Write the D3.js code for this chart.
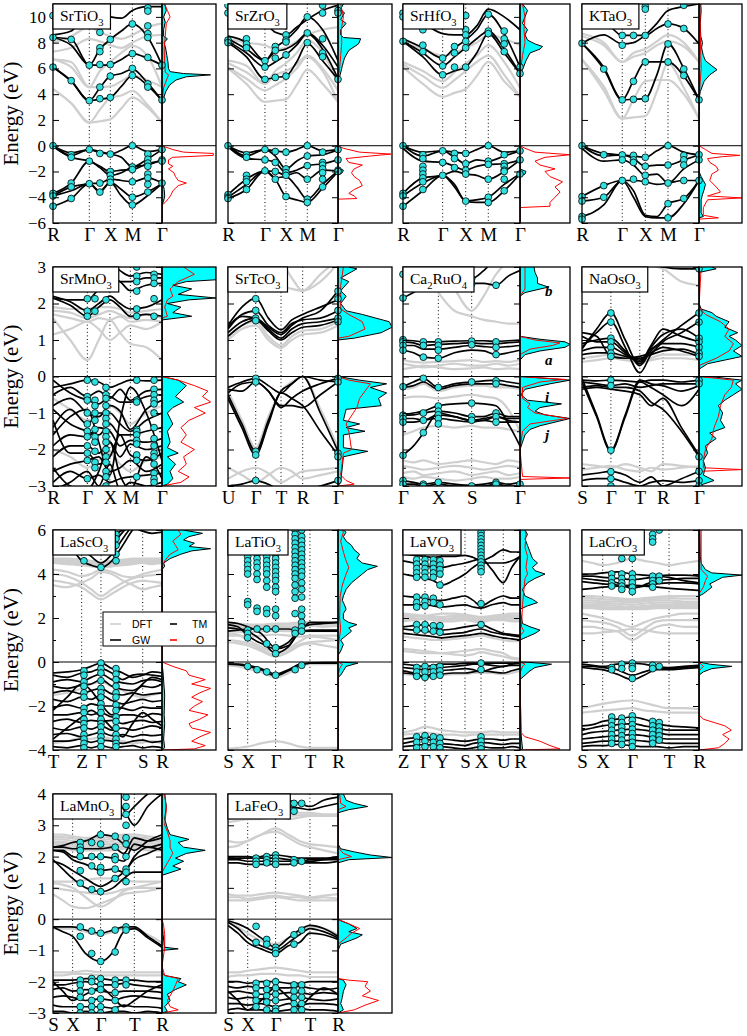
<!DOCTYPE html>
<html>
<head>
<meta charset="utf-8">
<script src="https://cdnjs.cloudflare.com/ajax/libs/d3/7.8.5/d3.min.js"></script>
<style>
  body { margin: 0; background: #fff; }
  svg text { font-family: "Liberation Serif", "Times New Roman", "DejaVu Serif", serif; }
</style>
</head>
<body>
<div id="chart"></div>
<script>
// ---------------------------------------------------------------------------
// data: k-path labels/positions, band energies (eV) at grid knots, GW dots,
// projected DOS (E, fraction of DOS panel width)
// ---------------------------------------------------------------------------

// SrTiO3
var srTiO3Labels = ["R", "Γ", "X", "M", "Γ"];
var srTiO3K = [0, .333, .526, .728, 1];
var srTiO3Grid = [0, .167, .333, .43, .526, .627, .728, .864, 1];
var srTiO3GW = [
  [6.1, 5.05, 3.5, 3.6, 3.75, 4.6, 5.45, 4.7, 3.5],
  [6.1, 5.0, 3.5, 4.5, 5.4, 5.6, 5.95, 4.9, 3.5],
  [8.4, 7.8, 6.25, 6.25, 6.3, 6.7, 7.15, 6.8, 6.25],
  [8.4, 8.25, 6.25, 7.5, 8.25, 8.9, 9.45, 8.5, 6.25],
  [8.6, 8.9, 10.6, 10.2, 10.0, 9.9, 10.5, 10.8, 10.8],
  [0, -0.55, -0.3, -0.45, -0.65, -0.35, 0.0, -0.45, -0.3],
  [0, -0.75, -0.3, -0.55, -0.65, -0.9, -1.65, -1.05, -0.3],
  [-0.05, -0.9, -1.2, -1.6, -2.0, -1.9, -1.85, -1.4, -1.2],
  [-3.7, -2.9, -1.2, -1.7, -2.3, -2.1, -1.65, -1.5, -1.1],
  [-3.9, -3.2, -2.95, -2.9, -2.6, -2.7, -2.8, -2.5, -2.9],
  [-3.9, -3.5, -2.95, -3.5, -2.85, -3.4, -4.0, -3.6, -2.95],
  [-4.7, -4.1, -2.95, -3.6, -2.85, -3.9, -4.6, -3.9, -2.95]
];
var srTiO3DFT = [
  [4.4, 3.3, 1.8, 1.9, 2.05, 2.9, 3.75, 3.0, 1.8],
  [4.4, 3.3, 1.8, 2.8, 3.7, 3.9, 4.25, 3.2, 1.8],
  [6.7, 6.1, 4.55, 4.55, 4.6, 5.0, 5.45, 5.1, 4.55],
  [6.7, 6.5, 4.55, 5.8, 6.5, 7.2, 7.75, 7.0, 4.55],
  [7.3, 7.6, 8.3, 8.1, 7.8, 7.6, 8.0, 8.5, 8.6],
  [8.0, 8.5, 9.2, 8.8, 8.5, 8.3, 8.6, 9.2, 9.5]
];
var srTiO3Dots = [
  [0, [10.1, 8.4, 6.1, 0, -3.7, -3.9, -4.7]],
  [.167, [8.25, 5.05, -0.7, -0.9, -2.9, -3.2, -4.1]],
  [.333, [6.25, 3.5, -0.3, -1.2, -2.95]],
  [.43, [8.8, 7.6, 7.3, 6.3, 4.55, 3.65, -0.6, -2.9, -3.6]],
  [.526, [8.25, 6.3, 5.4, 3.75, -0.65, -2.0, -2.3, -2.6, -2.85]],
  [.728, [9.45, 7.15, 6.0, 5.45, 0, -1.65, -1.85, -2.8, -4.0, -4.6]],
  [.87, [10.7, 10.45, 9.3, 8.7, 8.4, 6.85, 4.8, 4.55, -0.65, -1.05, -1.35, -1.6, -2.2, -2.5, -3.0, -3.6]],
  [1, [6.25, 3.55, -0.3, -1.1, -1.2, -2.9]]
];
var srTiO3TM = [[-6,0],[-4.6,0],[-4.3,0.03],[-3.9,0.05],[-3.4,0.04],[-3.0,0.02],[-2.6,0],[-0.6,0],[-0.3,0.02],[0,0],[3.3,0],[3.7,0.03],[4.2,0.07],[4.7,0.14],[5.1,0.26],[5.35,0.45],[5.5,0.9],[5.6,0.4],[5.75,0.15],[6.0,0.12],[6.5,0.11],[7.0,0.09],[7.5,0.07],[8.0,0.04],[8.3,0.1],[8.5,0.03],[9.0,0.03],[9.6,0.06],[10.0,0.03],[10.5,0.08],[11,0.05]];
var srTiO3O = [[-6,0],[-4.6,0],[-4.4,0.06],[-4.1,0.12],[-3.8,0.17],[-3.5,0.2],[-3.1,0.3],[-2.9,0.45],[-2.7,0.3],[-2.4,0.25],[-2.1,0.22],[-1.8,0.12],[-1.6,0.2],[-1.4,0.12],[-1.1,0.12],[-0.9,0.2],[-0.75,0.95],[-0.6,0.95],[-0.5,0.4],[-0.3,0.2],[-0.1,0.06],[0,0],[3.4,0],[4.5,0.03],[5.5,0.12],[5.7,0.06],[6.5,0.05],[7.5,0.04],[8.5,0.06],[9.5,0.08],[10.0,0.15],[10.5,0.1],[11,0.05]];

// SrZrO3
var srZrO3Labels = ["R", "Γ", "X", "M", "Γ"];
var srZrO3K = [0, .336, .527, .721, 1];
var srZrO3Grid = [0, .168, .336, .43, .527, .624, .721, .86, 1];
var srZrO3GW = [
  [8.0, 6.9, 5.15, 5.3, 5.4, 6.5, 7.95, 6.6, 5.15],
  [8.1, 7.2, 6.1, 6.5, 7.05, 7.8, 8.7, 7.5, 5.2],
  [8.3, 7.5, 6.6, 7.3, 7.5, 8.0, 8.75, 7.8, 6.1],
  [8.5, 8.0, 6.6, 7.6, 8.2, 9.0, 10.0, 9.0, 6.6],
  [10.5, 9.9, 9.5, 8.8, 8.6, 9.2, 9.8, 10.5, 10.9],
  [0, -0.55, -0.3, -0.4, -0.5, -0.3, 0, -0.4, -0.3],
  [0, -0.8, -0.3, -0.8, -1.8, -1.2, -0.8, -0.7, -0.3],
  [-0.1, -1.0, -1.1, -1.3, -2.1, -1.9, -1.55, -1.4, -1.1],
  [-3.8, -2.6, -1.95, -2.0, -2.3, -2.1, -2.6, -1.9, -1.95],
  [-4.0, -3.0, -1.95, -2.5, -2.4, -3.2, -4.15, -3.0, -1.95],
  [-4.1, -3.4, -1.95, -2.6, -3.95, -4.2, -4.4, -3.3, -2.0]
];
var srZrO3DFT = [
  [6.0, 4.8, 3.4, 3.5, 3.6, 4.7, 5.9, 4.8, 3.4],
  [6.1, 5.2, 4.3, 4.7, 5.2, 6.0, 6.9, 5.8, 3.4],
  [6.4, 5.7, 4.8, 5.5, 5.8, 6.3, 7.0, 6.0, 4.3],
  [6.6, 6.2, 4.8, 5.8, 6.4, 7.2, 8.2, 7.2, 4.8],
  [8.3, 8.0, 7.8, 7.5, 7.6, 8.1, 8.6, 9.0, 9.2]
];
var srZrO3Dots = [
  [0, [10.9, 10.3, 8.2, 8.0, 0, -3.8, -4.0, -4.1]],
  [.168, [8.3, 7.9, 7.6, -0.7, -0.9, -2.3, -2.6, -2.8, -3.4]],
  [.336, [6.6, 6.1, 5.15, -0.3, -1.1, -1.95]],
  [.43, [7.7, 7.4, 6.8, 5.3, -0.45, -1.3, -2.0, -2.6]],
  [.527, [8.6, 8.2, 8.05, 7.05, 5.4, -0.5, -1.8, -2.1, -2.3, -3.95]],
  [.721, [10.0, 8.75, 8.0, 0, -0.8, -1.55, -2.6, -4.15, -4.4]],
  [.86, [10.9, 10.3, 8.3, 7.2, 6.9, -0.5, -1.3, -1.5, -1.8, -2.1, -2.6, -3.2]],
  [1, [10.5, 10.3, 5.15, -0.3, -1.1, -1.9, -2.0]]
];
var srZrO3TM = [[-6,0],[-2.3,0],[-2.1,0.08],[-1.9,0.1],[-1.7,0],[0,0],[5.1,0],[5.5,0.04],[6.2,0.08],[6.8,0.12],[7.4,0.2],[7.9,0.38],[8.3,0.42],[8.4,0.1],[8.6,0.05],[9.0,0.05],[9.5,0.15],[9.8,0.05],[10.3,0.12],[10.6,0.05],[11,0.1]];
var srZrO3O = [[-6,0],[-4.15,0],[-4.1,0.35],[-3.9,0.3],[-3.7,0.2],[-3.4,0.3],[-3.1,0.45],[-2.7,0.4],[-2.4,0.3],[-2.1,0.25],[-1.8,0.3],[-1.5,0.45],[-1.3,0.2],[-1.0,0.15],[-0.8,0.6],[-0.65,0.98],[-0.5,0.4],[-0.2,0.1],[0,0],[5.2,0],[6,0.03],[7,0.05],[8,0.07],[9,0.06],[10,0.1],[11,0.05]];

// SrHfO3
var srHfO3Labels = ["R", "Γ", "X", "M", "Γ"];
var srHfO3K = [0, .339, .536, .729, 1];
var srHfO3Grid = [0, .17, .339, .44, .536, .63, .729, .865, 1];
var srHfO3GW = [
  [8.1, 6.9, 5.5, 5.8, 6.1, 7.2, 8.7, 7.2, 5.6],
  [8.1, 7.2, 6.2, 6.9, 7.6, 8.3, 8.9, 7.5, 5.6],
  [8.3, 7.6, 6.8, 7.6, 8.2, 9.0, 10.2, 8.7, 6.1],
  [10.2, 9.5, 8.7, 8.6, 8.6, 9.3, 10.6, 10.0, 9.0],
  [0, -0.5, -0.4, -0.5, -0.6, -0.3, 0, -0.5, -0.4],
  [0, -0.8, -0.4, -0.9, -1.4, -1.1, -1.2, -0.8, -0.4],
  [-0.2, -1.2, -1.3, -1.6, -1.9, -1.6, -1.45, -1.4, -1.1],
  [-3.7, -2.5, -2.3, -2.0, -2.2, -2.3, -2.6, -2.0, -1.1],
  [-3.9, -2.9, -2.3, -3.0, -4.3, -4.2, -4.0, -3.0, -2.2],
  [-4.7, -3.5, -2.3, -3.2, -4.3, -4.4, -4.4, -3.5, -2.2]
];
var srHfO3DFT = [
  [6.1, 4.8, 3.8, 4.1, 4.4, 5.4, 6.5, 5.0, 3.8],
  [6.3, 5.4, 4.5, 5.1, 5.8, 6.5, 7.0, 5.5, 3.8],
  [6.5, 5.8, 5.0, 5.7, 6.4, 7.0, 7.8, 6.5, 4.5],
  [8.0, 7.5, 7.0, 7.2, 7.6, 8.0, 8.6, 8.3, 7.8]
];
var srHfO3Dots = [
  [0, [10.3, 10.0, 8.1, 0, -3.7, -3.9, -4.7]],
  [.17, [9.7, 9.0, 7.8, 7.3, -0.7, -1.0, -1.6, -1.9, -2.2, -2.5, -2.8, -3.4]],
  [.339, [6.8, 6.2, 5.5, -0.4, -1.3, -2.3]],
  [.44, [7.7, 7.2, 6.1, -0.6, -1.0, -1.7]],
  [.536, [10.1, 9.0, 8.6, 8.1, 7.6, 6.1, -0.6, -1.4, -1.9, -2.2, -4.3]],
  [.729, [10.2, 8.9, 8.7, 0, -1.2, -1.45, -2.6, -4.0, -4.4]],
  [.865, [8.9, 8.3, 7.9, 7.3, -0.7, -1.4, -1.6, -1.9, -2.0, -2.6, -3.5]],
  [1, [6.1, 5.6, -0.4, -1.1, -2.2]]
];
var srHfO3TM = [[-6,0],[-2.4,0],[-2.2,0.1],[-2.0,0.12],[-1.8,0],[0,0],[5.5,0],[6.0,0.06],[6.6,0.12],[7.2,0.2],[7.5,0.4],[7.7,0.45],[7.9,0.3],[8.2,0.15],[8.6,0.1],[9,0.15],[9.5,0.05],[10,0.1],[10.5,0.15],[11,0.05]];
var srHfO3O = [[-6,0],[-4.8,0],[-4.7,0.6],[-4.4,0.6],[-4.0,0.7],[-3.6,0.8],[-3.2,0.7],[-2.8,0.85],[-2.4,0.6],[-2.0,0.5],[-1.8,0.7],[-1.5,0.4],[-1.2,0.3],[-0.9,0.5],[-0.7,1.0],[-0.5,0.3],[-0.2,0.1],[0,0],[5.5,0],[7,0.05],[8,0.1],[9,0.08],[10,0.1],[11,0.05]];

// KTaO3
var kTaO3Labels = ["R", "Γ", "X", "M", "Γ"];
var kTaO3K = [0, .344, .541, .735, 1];
var kTaO3Grid = [0, .186, .344, .44, .541, .64, .735, .87, 1];
var kTaO3GW = [
  [7.95, 5.95, 3.56, 3.6, 3.65, 5.5, 7.9, 6.0, 3.56],
  [7.95, 6.1, 3.56, 5.05, 6.5, 6.5, 6.5, 5.4, 3.56],
  [10.5, 9.8, 8.56, 8.56, 8.56, 9.1, 9.45, 9.1, 7.9],
  [7.95, 8.6, 7.9, 8.0, 8.6, 9.5, 10.5, 10.8, 11.0],
  [0, -0.6, -0.72, -0.8, -0.9, -0.4, 0, -0.5, -0.72],
  [0, -0.8, -0.72, -1.0, -1.6, -1.5, -1.5, -1.1, -0.72],
  [-0.2, -1.2, -1.1, -1.5, -2.3, -2.2, -2.9, -1.8, -1.1],
  [-3.95, -3.1, -2.7, -2.7, -2.8, -3.0, -2.9, -2.7, -2.7],
  [-4.3, -4.0, -2.7, -3.5, -5.4, -5.5, -4.5, -4.1, -2.7],
  [-5.5, -4.6, -2.7, -4.0, -5.5, -5.6, -5.6, -4.5, -2.7]
];
var kTaO3DFT = [
  [6.7, 4.3, 2.1, 2.2, 2.3, 4.2, 6.4, 4.5, 2.1],
  [6.7, 4.6, 2.1, 3.6, 5.0, 5.1, 5.1, 4.0, 2.1],
  [8.5, 7.8, 6.5, 6.9, 7.2, 7.8, 8.1, 7.7, 6.5],
  [8.7, 8.0, 6.5, 7.2, 7.5, 8.1, 8.6, 8.0, 6.5]
];
var kTaO3Dots = [
  [0, [7.95, 0, -3.95, -4.3, -5.5, -5.7]],
  [.186, [5.95, -0.7, -3.1, -4.0]],
  [.344, [10.8, 10.6, 8.56, 7.8, 3.56, -0.72, -1.1, -2.7]],
  [.44, [8.56, 5.0, 3.6, -0.75, -1.1, -1.3, -2.6]],
  [.541, [10.8, 10.6, 8.56, 6.5, 3.65, -0.9, -1.6, -2.3, -2.8]],
  [.735, [9.45, 7.9, 6.5, 0, -1.5, -2.9, -4.5, -5.6]],
  [.87, [10.9, 9.1, 5.95, 5.45, -0.75, -1.1, -1.5, -2.7, -4.1]],
  [1, [3.56, -0.7, -1.1, -2.7]]
];
var kTaO3TM = [[-6,0],[-5.6,0],[-5.5,0.1],[-5.2,0.05],[-4.2,0.05],[-3.8,0.08],[-3.4,0.12],[-3.0,0.15],[-2.7,0.1],[-2.4,0.05],[-2,0],[0,0],[3.6,0],[4.2,0.03],[5.0,0.12],[5.5,0.25],[5.9,0.42],[6.2,0.3],[6.6,0.15],[7.0,0.1],[7.6,0.06],[8.0,0.08],[8.5,0.04],[9.5,0.03],[10.5,0.05],[11,0.04]];
var kTaO3O = [[-6,0],[-5.7,0],[-5.6,0.45],[-5.4,0.1],[-4.8,0.1],[-4.2,0.2],[-4.05,1.0],[-3.9,0.2],[-3.6,0.5],[-3.2,0.4],[-2.7,0.25],[-2.2,0.3],[-1.9,0.45],[-1.6,0.4],[-1.3,0.25],[-1.0,0.2],[-0.85,0.55],[-0.75,0.95],[-0.6,0.3],[-0.3,0.15],[0,0],[3.6,0],[5,0.03],[6,0.05],[7,0.04],[9,0.03],[11,0.02]];

// SrMnO3
var srMnO3Labels = ["R", "Γ", "X", "M", "Γ"];
var srMnO3K = [0, .315, .522, .71, 1];
var srMnO3Grid = [0, .158, .315, .42, .522, .615, .71, .856, 1];
var srMnO3GW = [
  [2.15, 1.95, 1.65, 1.9, 2.1, 1.9, 1.65, 1.7, 1.65],
  [2.2, 2.05, 1.8, 2.0, 2.2, 2.0, 1.85, 1.9, 2.1],
  [2.15, 2.1, 2.1, 2.4, 2.7, 2.6, 2.35, 2.5, 2.55],
  [2.8, 2.95, 3.1, 2.9, 2.75, 2.6, 2.6, 2.7, 2.7],
  [3.1, 3.0, 2.9, 3.0, 3.1, 2.9, 2.75, 2.85, 2.8],
  [-0.3, -0.2, -0.1, -0.15, -0.3, -0.2, -0.1, -0.12, -0.1],
  [-0.5, -0.3, -0.55, -0.4, -0.6, -0.35, -0.65, -0.4, -0.35],
  [-0.1, -0.45, -0.65, -0.75, -0.55, -0.7, -0.7, -0.55, -0.5],
  [-0.8, -0.6, -1.0, -1.1, -0.8, -0.95, -1.45, -0.9, -0.65],
  [-1.4, -0.9, -1.3, -1.0, -1.0, -1.3, -1.5, -1.2, -1.0],
  [-0.9, -1.3, -1.5, -1.6, -1.3, -1.6, -1.6, -1.5, -1.4],
  [-1.9, -1.6, -1.65, -1.4, -1.5, -1.9, -1.75, -1.8, -1.7],
  [-2.2, -1.9, -1.9, -2.1, -1.8, -2.2, -1.85, -2.0, -1.9],
  [-1.2, -2.1, -2.1, -2.4, -2.2, -1.6, -2.15, -2.3, -2.1],
  [-2.6, -2.4, -2.3, -2.2, -2.6, -2.5, -2.3, -2.6, -2.4],
  [-2.9, -2.6, -2.8, -2.7, -2.9, -2.8, -2.75, -2.7, -2.65],
  [-3.1, -2.9, -2.6, -3.0, -2.4, -3.1, -2.9, -3.0, -2.9],
  [-2.5, -3.0, -3.1, -2.6, -1.8, -2.7, -3.1, -2.2, -2.8],
  [-1.6, -1.1, -0.9, -1.8, -2.7, -1.2, -0.3, -1.0, -2.3]
];
var srMnO3DFT = [
  [1.6, 1.0, 0.45, 1.0, 1.55, 1.2, 0.9, 0.8, 0.45],
  [1.7, 1.6, 1.5, 1.6, 1.55, 1.65, 1.5, 1.55, 1.5],
  [1.8, 1.75, 1.6, 1.7, 1.8, 1.7, 1.6, 1.7, 1.6],
  [1.9, 1.85, 1.85, 1.9, 1.9, 1.85, 1.75, 1.8, 1.85],
  [1.15, 1.3, 1.5, 1.3, 1.0, 1.2, 1.4, 1.3, 1.5],
  [-0.6, -0.9, -1.2, -1.1, -0.8, -1.0, -1.3, -1.0, -0.8],
  [-2.0, -2.2, -2.5, -2.3, -2.1, -2.4, -2.6, -2.3, -2.2]
];
var srMnO3Dots = [
  [.315, [3.0, 2.13, 1.79, 1.65, -0.1, -0.55, -0.65, -1.0, -1.3, -1.5, -1.65, -1.9, -2.1, -2.3, -2.8]],
  [.385, [2.13, 1.79, -0.15, -0.65, -0.8, -1.0, -1.2, -1.45, -1.65, -1.8, -2.05, -2.35, -2.5]],
  [.486, [2.1, -0.3, -0.5, -0.6, -0.8, -1.0, -1.15, -1.3, -1.5, -1.65, -1.8, -2.0, -2.2, -2.35, -2.6, -2.75, -3.0]],
  [.768, [3.0, 2.75, 2.6, 2.34, 1.85, 1.65, -0.1, -0.65, -0.7, -1.45, -1.5, -1.6, -1.75, -1.85, -2.15, -2.3, -2.75]],
  [.927, [2.8, 2.7, 2.55, 2.13, 1.65, -0.1, -0.35, -0.5, -0.65, -0.75, -1.0, -1.4, -1.7, -1.9, -2.1, -2.2, -2.4, -2.65, -2.8, -2.9]]
];
var srMnO3TM = [[-3,0],[-2.95,0.1],[-2.8,0.2],[-2.6,0.15],[-2.4,0.25],[-2.2,0.1],[-2.1,0.3],[-1.95,0.1],[-1.8,0.15],[-1.5,0.1],[-1.3,0.2],[-1.0,0.1],[-0.85,0.2],[-0.7,0.4],[-0.55,0.25],[-0.4,0.35],[-0.25,0.45],[-0.1,0.3],[0,0],[1.55,0],[1.65,0.55],[1.75,0.2],[1.9,0.35],[2.0,0.1],[2.1,0.5],[2.15,1.0],[2.25,0.3],[2.4,0.55],[2.5,0.2],[2.6,0.45],[2.65,1.0],[3.0,1.0]];
var srMnO3O = [[-3,0],[-2.9,0.35],[-2.75,0.5],[-2.6,0.3],[-2.4,0.45],[-2.2,0.4],[-2.0,0.6],[-1.8,0.35],[-1.6,0.45],[-1.4,0.35],[-1.2,0.5],[-1.0,0.8],[-0.85,0.6],[-0.7,0.9],[-0.55,0.75],[-0.4,0.85],[-0.25,0.6],[-0.1,0.3],[0,0],[1.6,0],[1.65,0.1],[1.9,0.05],[2.1,0.1],[2.2,0.2],[2.4,0.15],[2.6,0.3],[2.8,0.6],[3,0.4]];

// SrTcO3
var srTcO3Labels = ["U", "Γ", "T", "R", "Γ"];
var srTcO3K = [0, .252, .482, .679, 1];
var srTcO3Grid = [0, .126, .252, .367, .482, .58, .679, .84, 1];
var srTcO3GW = [
  [1.1, 1.4, 1.55, 1.25, 1.0, 1.2, 1.35, 1.4, 1.55],
  [1.2, 1.5, 1.6, 1.3, 1.05, 1.3, 1.45, 1.5, 1.6],
  [1.3, 1.7, 1.8, 1.4, 1.2, 1.45, 1.55, 1.6, 1.8],
  [1.4, 1.9, 2.15, 1.6, 1.28, 1.55, 1.7, 1.9, 2.1],
  [1.35, 1.65, 1.6, 1.35, 1.15, 1.4, 1.6, 1.8, 2.35],
  [-0.3, -0.15, -0.05, -0.25, -0.45, -0.2, 0, -0.1, -0.15],
  [-0.45, -0.2, -0.15, -0.4, -0.85, -0.6, -0.4, -0.2, -0.05],
  [-0.5, -1.3, -2.05, -1.2, -0.4, -0.2, 0, -1.0, -2.05],
  [-0.6, -1.4, -2.15, -1.3, -0.45, -0.6, -0.8, -1.5, -2.15],
  [-0.35, -0.4, -0.15, -0.4, -0.8, -0.8, -0.85, -0.5, -0.15],
  [-3.0, -2.95, -2.85, -2.95, -3.1, -3.1, -3.1, -3.0, -2.85]
];
var srTcO3DFT = [
  [1.0, 1.3, 1.4, 1.0, 0.78, 1.0, 1.15, 1.2, 1.4],
  [1.1, 1.4, 1.5, 1.1, 0.85, 1.1, 1.25, 1.3, 1.5],
  [2.6, 2.8, 3.1, 2.8, 2.5, 2.4, 2.35, 2.8, 3.2],
  [2.9, 2.6, 2.4, 2.7, 3.1, 2.7, 2.35, 2.6, 3.1],
  [-0.4, -1.2, -1.95, -1.1, -0.4, -0.15, 0, -0.9, -1.95],
  [-2.5, -2.7, -2.9, -2.7, -2.5, -2.6, -2.8, -2.7, -2.6],
  [-2.8, -2.6, -2.5, -2.65, -2.9, -2.75, -2.6, -2.55, -2.5]
];
var srTcO3Dots = [
  [.252, [2.13, 1.81, 1.6, 1.53, -0.05, -0.15, -2.05, -2.15, -2.85]],
  [1, [2.34, 2.13, 1.81, 1.6, 1.5, -0.05, -0.15, -2.1, -2.2, -2.85]]
];
var srTcO3TM = [[-3,0],[-2.9,0.05],[-2.2,0.1],[-2.05,0.55],[-1.95,0.1],[-1.6,0.1],[-1.5,0.5],[-1.4,0.15],[-1.3,0.4],[-1.2,0.1],[-0.9,0.15],[-0.8,0.8],[-0.6,0.75],[-0.45,0.9],[-0.3,0.6],[-0.2,0.9],[-0.1,0.4],[0,0],[1.0,0],[1.05,0.3],[1.2,0.8],[1.35,1.0],[1.5,0.95],[1.6,0.7],[1.7,0.45],[1.8,0.15],[2.0,0.05],[2.2,0.15],[2.35,0.05],[2.6,0.2],[2.7,0.05],[2.95,0.35],[3,0.2]];
var srTcO3O = [[-3,0],[-2.95,0.3],[-2.85,0.15],[-2.7,0.05],[-2.1,0.1],[-2.0,0.25],[-1.5,0.2],[-1.3,0.15],[-0.85,0.35],[-0.6,0.4],[-0.4,0.5],[-0.2,0.6],[-0.1,0.2],[0,0],[1.05,0],[1.1,0.2],[1.3,0.5],[1.5,0.45],[1.7,0.2],[1.85,0.05],[2.5,0.05],[3,0.1]];

// Ca2RuO4
var ca2RuO4Labels = ["Γ", "X", "S", "Γ"];
var ca2RuO4K = [0, .302, .587, 1];
var ca2RuO4Grid = [0, .09, .174, .302, .44, .587, .69, .795, .9, 1];
var ca2RuO4GW = [
  [2.15, 2.3, 2.45, 2.5, 2.55, 2.55, 2.55, 2.5, 2.75, 2.9],
  [2.75, 2.9, 3.1, 3.2, 2.9, 2.68, 2.9, 3.2, 3.1, 3.0],
  [1.0, 0.98, 0.95, 0.95, 0.97, 0.98, 0.98, 0.96, 0.98, 1.0],
  [0.95, 0.92, 0.85, 0.88, 0.9, 0.92, 0.9, 0.9, 0.93, 0.95],
  [0.85, 0.85, 0.75, 0.75, 0.8, 0.85, 0.82, 0.8, 0.82, 0.85],
  [0.72, 0.65, 0.53, 0.5, 0.65, 0.72, 0.7, 0.6, 0.65, 0.72],
  [-0.28, -0.15, -0.05, -0.3, -0.2, -0.15, -0.12, -0.1, -0.15, -0.2],
  [-0.3, -0.25, -0.15, -0.35, -0.25, -0.2, -0.2, -0.2, -0.25, -0.3],
  [-1.05, -1.0, -0.95, -0.8, -0.75, -0.73, -0.75, -0.8, -1.3, -1.9],
  [-1.06, -1.05, -1.0, -0.95, -1.0, -1.1, -1.1, -1.0, -1.1, -1.1],
  [-1.15, -1.15, -1.2, -1.05, -1.1, -1.2, -1.15, -1.1, -1.15, -1.15],
  [-1.25, -1.25, -1.2, -1.15, -1.2, -1.25, -1.2, -1.25, -1.25, -1.25],
  [-2.15, -1.9, -1.55, -1.0, -1.1, -1.2, -1.2, -1.1, -1.2, -1.25],
  [-2.85, -2.9, -2.95, -2.9, -2.95, -2.98, -2.95, -2.9, -2.95, -2.9],
  [-2.95, -2.95, -3.0, -2.95, -3.0, -3.0, -3.0, -2.95, -3.0, -3.0]
];
var ca2RuO4DFT = [
  [3.1, 3.1, 2.9, 2.3, 1.8, 1.65, 1.55, 1.5, 1.45, 1.45],
  [2.3, 2.6, 3.1, 3.1, 2.4, 1.8, 2.2, 2.8, 3.1, 3.1],
  [0.35, 0.3, 0.25, 0.3, 0.35, 0.3, 0.3, 0.35, 0.3, 0.35],
  [0.2, 0.25, 0.3, 0.25, 0.2, 0.22, 0.25, 0.2, 0.22, 0.2],
  [0.45, 0.4, 0.38, 0.4, 0.42, 0.45, 0.4, 0.42, 0.4, 0.45],
  [-0.35, -0.3, -0.2, -0.4, -0.3, -0.25, -0.25, -0.3, -0.3, -0.35],
  [-0.6, -0.55, -0.55, -0.6, -0.55, -0.5, -0.55, -0.6, -0.9, -1.5],
  [-1.6, -1.5, -1.4, -1.35, -1.4, -1.35, -1.4, -1.4, -1.45, -1.5],
  [-2.3, -2.35, -2.3, -2.4, -2.35, -2.3, -2.35, -2.4, -2.3, -2.35],
  [-2.45, -2.5, -2.55, -2.5, -2.45, -2.5, -2.55, -2.5, -2.45, -2.5],
  [-2.65, -2.6, -2.7, -2.65, -2.6, -2.7, -2.65, -2.6, -2.7, -2.65],
  [-2.75, -2.8, -2.75, -2.8, -2.85, -2.8, -2.75, -2.8, -2.8, -2.75]
];
var ca2RuO4Dots = [
  [0, [2.8, 2.15, 1.01, 0.95, 0.85, 0.72, -0.28, -1.06, -1.15, -1.25, -2.16, -2.85, -2.95]],
  [.174, [0.95, 0.85, 0.53, -0.05, -1.0, -1.2, -1.54, -2.95, -3.0]],
  [.302, [0.95, 0.85, 0.72, 0.5, -0.3, -0.81, -0.95, -1.05, -1.15, -1.3, -2.9]],
  [.587, [2.68, 2.54, 0.97, 0.87, -0.15, -0.73, -1.1, -1.2, -3.0]],
  [.795, [2.5, 0.95, 0.8, 0.6, -0.12, -0.2, -1.0, -1.1, -1.25, -2.9, -2.95]],
  [1, [-2.95]]
];
var ca2RuO4TM = [[-3,0],[-2.0,0],[-1.8,0.05],[-1.6,0.1],[-1.45,0.2],[-1.35,0.4],[-1.25,0.7],[-1.15,1.0],[-1.05,0.5],[-0.95,0.3],[-0.85,0.4],[-0.75,0.83],[-0.65,0.15],[-0.5,0.02],[-0.35,0.1],[-0.2,0.6],[-0.1,1.0],[-0.03,0.3],[0,0],[0.45,0],[0.6,0.1],[0.7,0.4],[0.8,0.9],[0.88,1.0],[0.95,0.9],[1.02,0.4],[1.1,0],[2.2,0],[2.3,0.1],[2.45,0.57],[2.55,0.35],[2.7,0.35],[2.85,0.3],[3,0.28]];
var ca2RuO4O = [[-3,0],[-2.82,0],[-2.78,1.0],[-2.74,0.05],[-2.0,0],[-1.5,0.05],[-1.3,0.2],[-1.15,0.95],[-1.0,0.3],[-0.85,0.15],[-0.75,0.2],[-0.6,0.05],[-0.3,0.05],[-0.15,0.4],[-0.08,0.9],[0,0],[0.6,0],[0.75,0.2],[0.85,0.65],[0.92,0.8],[1.0,0.3],[1.1,0],[2.2,0],[2.4,0.1],[2.6,0.1],[3,0.1]];
var ca2RuO4Marks = [["b", 2.35], ["a", 0.45], ["i", -0.55], ["j", -1.6]];

// NaOsO3
var naOsO3Labels = ["S", "Γ", "T", "R", "Γ"];
var naOsO3K = [0, .247, .494, .692, 1];
var naOsO3Grid = [0, .125, .247, .37, .494, .59, .692, .85, 1];
var naOsO3GW = [
  [0.75, 1.3, 1.75, 1.0, 0.3, 0.7, 1.0, 1.4, 1.75],
  [0.8, 1.2, 1.5, 0.8, 0.1, 0.6, 0.95, 1.2, 1.5],
  [0.9, 1.0, 1.05, 0.7, 0.35, 0.8, 1.15, 1.3, 1.05],
  [1.1, 0.95, 0.95, 0.65, 0.4, 0.85, 1.3, 1.1, 0.95],
  [0.7, 0.8, 0.8, 0.6, 0.45, 0.75, 0.9, 0.9, 0.8],
  [0.6, 0.65, 0.65, 0.55, 0.5, 0.6, 0.7, 0.75, 0.6],
  [1.2, 1.1, 0.55, 0.5, 0.55, 0.65, 0.8, 0.7, 0.55],
  [3.2, 3.2, 3.2, 3.2, 3.2, 3.1, 3.0, 2.95, 2.95],
  [-0.1, -0.12, -0.1, -0.12, -0.15, -0.1, -0.1, -0.15, -0.1],
  [-0.15, -0.2, -0.25, -0.2, -0.3, -0.25, -0.2, -0.2, -0.2],
  [-0.05, -1.05, -2.02, -1.05, -0.1, -0.2, -0.25, -0.4, -0.25],
  [-0.15, -1.1, -2.05, -1.1, -0.15, -0.3, -0.5, -0.8, -0.35],
  [-0.3, -0.25, -0.3, -0.3, -0.4, -0.7, -0.9, -1.5, -2.2],
  [-0.35, -0.3, -0.35, -0.4, -0.5, -0.8, -0.6, -1.4, -2.15],
  [-2.7, -2.65, -2.6, -2.7, -2.9, -2.75, -3.0, -2.8, -2.6],
  [-2.85, -2.8, -2.8, -2.9, -3.0, -2.9, -2.85, -2.9, -2.85]
];
var naOsO3DFT = [
  [0.5, 0.55, 0.6, 0.5, 0.35, 0.5, 0.6, 0.6, 0.6],
  [0.4, 0.45, 0.5, 0.45, 0.4, 0.45, 0.5, 0.5, 0.45],
  [3.1, 3.1, 3.1, 3.1, 3.1, 3.05, 2.95, 2.6, 2.5],
  [-2.4, -2.45, -2.5, -2.4, -2.5, -2.6, -2.4, -2.45, -2.5],
  [-2.55, -2.5, -2.45, -2.55, -2.6, -2.5, -2.55, -2.5, -2.45]
];
var naOsO3Dots = [
  [.247, [1.74, 1.49, 1.05, 0.95, 0.8, 0.64, 0.55, -0.1, -0.25, -2.02, -2.61, -2.8, -3.0]],
  [1, [2.95, 1.74, 1.49, 1.05, 0.95, 0.8, 0.64, 0.55, -0.1, -0.2, -2.2, -2.6, -2.85, -3.0]]
];
var naOsO3TM = [[-3,0],[-2.95,0.1],[-2.85,0.35],[-2.7,0.1],[-2.5,0.15],[-2.3,0.1],[-2.1,0.2],[-1.9,0.15],[-1.7,0.4],[-1.55,0.25],[-1.4,0.6],[-1.2,0.5],[-1.0,0.55],[-0.8,0.45],[-0.65,0.6],[-0.5,0.8],[-0.35,1.0],[-0.2,0.85],[-0.1,1.0],[-0.02,0.4],[0,0],[0.2,0],[0.35,0.2],[0.45,0.6],[0.55,1.0],[0.7,0.8],[0.85,1.0],[1.0,0.85],[1.1,0.7],[1.2,0.9],[1.35,0.6],[1.5,0.7],[1.65,0.4],[1.75,0.3],[1.85,0.05],[2.0,0],[2.85,0],[2.95,0.4],[3,0.3]];
var naOsO3O = [[-3,0],[-2.6,0],[-2.55,1.0],[-2.5,0.1],[-2.3,0.1],[-2.0,0.15],[-1.7,0.3],[-1.4,0.35],[-1.1,0.45],[-0.8,0.5],[-0.5,0.6],[-0.3,0.75],[-0.1,0.8],[0,0],[0.3,0],[0.5,0.4],[0.7,0.7],[0.9,0.8],[1.1,0.6],[1.3,0.7],[1.5,0.5],[1.7,0.15],[1.9,0],[3,0.05]];

// LaScO3
var laScO3Labels = ["T", "Z", "Γ", "S", "R"];
var laScO3K = [0, .263, .44, .823, 1];
var laScO3Grid = [0, .13, .263, .35, .44, .54, .64, .73, .823, .91, 1];
var laScO3GW = [
  [6.3, 5.5, 4.6, 4.4, 4.3, 4.6, 5.3, 6.0, 6.4, 6.5, 6.5],
  [6.5, 6.0, 5.2, 4.8, 4.5, 4.9, 5.6, 6.2, 6.5, 6.5, 6.5],
  [6.5, 6.3, 5.8, 5.5, 5.0, 5.3, 5.9, 6.3, 6.5, 6.5, 6.5],
  [6.5, 6.5, 6.2, 5.8, 5.6, 5.7, 6.0, 6.1, 5.95, 5.85, 5.9],
  [-0.5, -0.45, -0.35, -0.2, -0.05, -0.3, -0.5, -0.7, -0.6, -0.45, -0.5],
  [-0.6, -0.7, -0.5, -0.45, -0.3, -0.5, -0.8, -0.6, -0.55, -0.6, -0.65],
  [-0.9, -0.8, -0.9, -0.7, -0.55, -0.8, -0.95, -1.0, -0.85, -0.8, -0.9],
  [-1.1, -1.2, -1.05, -1.0, -0.8, -1.1, -1.25, -1.3, -1.1, -1.15, -1.0],
  [-1.4, -1.3, -1.45, -1.3, -1.2, -1.45, -1.5, -1.4, -1.5, -1.45, -1.4],
  [-1.7, -1.8, -1.6, -1.7, -1.5, -1.75, -1.9, -1.8, -1.7, -1.8, -1.75],
  [-2.1, -1.95, -2.1, -1.9, -2.0, -2.0, -2.1, -2.2, -2.05, -2.1, -2.1],
  [-2.4, -2.4, -2.3, -2.4, -2.3, -2.5, -2.4, -2.4, -2.5, -2.35, -2.4],
  [-2.7, -2.6, -2.75, -2.65, -2.7, -2.65, -2.8, -2.7, -2.65, -2.75, -2.7],
  [-3.0, -3.1, -2.95, -3.05, -2.9, -3.1, -3.0, -3.1, -3.0, -2.9, -3.0],
  [-3.3, -3.25, -3.4, -3.3, -3.2, -3.35, -3.3, -3.4, -3.3, -3.35, -3.3],
  [-3.6, -3.6, -3.5, -3.65, -3.55, -3.6, -3.7, -3.6, -3.55, -3.65, -3.6],
  [-3.85, -3.9, -3.8, -3.9, -3.8, -3.9, -3.85, -3.8, -3.9, -3.85, -3.9],
  [-2.2, -1.6, -1.0, -1.3, -1.9, -2.4, -2.0, -1.5, -1.0, -0.7, -0.8],
  [-3.5, -3.0, -2.5, -2.2, -2.5, -3.0, -3.4, -2.8, -2.3, -2.6, -2.9]
];
var laScO3DFT = [
  [4.7, 4.7, 4.65, 4.6, 4.55, 4.6, 4.65, 4.7, 4.7, 4.7, 4.7],
  [4.65, 4.62, 4.58, 4.53, 4.48, 4.55, 4.6, 4.65, 4.65, 4.62, 4.65],
  [4.6, 4.55, 4.5, 4.45, 4.4, 4.5, 4.55, 4.6, 4.6, 4.55, 4.6],
  [4.55, 4.5, 4.45, 4.4, 4.35, 4.42, 4.48, 4.52, 4.55, 4.5, 4.55],
  [4.5, 4.45, 4.4, 4.35, 4.3, 4.35, 4.4, 4.45, 4.5, 4.45, 4.5],
  [4.0, 3.9, 3.6, 3.3, 3.0, 3.3, 3.6, 3.8, 3.9, 3.95, 4.0],
  [3.7, 3.6, 3.4, 3.1, 2.85, 3.1, 3.4, 3.6, 3.7, 3.65, 3.6],
  [3.5, 3.4, 3.6, 3.8, 4.1, 4.0, 3.7, 3.5, 3.3, 3.4, 3.5],
  [4.2, 4.1, 3.9, 4.0, 4.2, 4.1, 3.9, 3.85, 4.0, 4.1, 4.2],
  [-1.5, -1.4, -1.2, -1.0, -0.9, -1.1, -1.3, -1.5, -1.6, -1.5, -1.4],
  [-3.7, -3.6, -3.45, -3.5, -3.4, -3.5, -3.6, -3.7, -3.65, -3.6, -3.7]
];
var laScO3Dots = [
  [.284, [4.6, -0.4, -0.6, -0.9, -1.1, -1.4, -1.6, -2.1, -2.3, -2.6, -2.8, -3.0, -3.3, -3.5, -3.7, -3.9]],
  [.44, [4.3, -0.05, -0.3, -0.5, -0.85, -1.2, -1.4, -1.6, -1.9, -2.1, -2.3, -2.6, -2.8, -2.95, -3.2, -3.4, -3.6, -3.85]],
  [.578, [5.8, 5.6, 5.3, 4.9, 4.6, -0.3, -0.55, -0.8, -1.1, -1.4, -1.6, -1.95, -2.2, -2.5, -2.7, -3.0, -3.3, -3.5, -3.7, -3.85]]
];
var laScO3TM = [[-4,0],[-3.9,0.05],[-3.5,0.03],[-2.8,0.05],[-2.4,0.04],[-1.5,0.05],[-0.5,0.02],[0,0],[4.2,0],[4.35,0.05],[4.5,0.03],[4.7,0.15],[4.9,0.35],[5.05,0.55],[5.15,0.9],[5.25,0.5],[5.4,0.6],[5.55,0.4],[5.7,0.5],[5.85,0.75],[5.95,0.5],[6,0.4]];
var laScO3O = [[-4,0],[-3.95,0.6],[-3.8,0.8],[-3.6,0.55],[-3.4,0.7],[-3.2,0.9],[-3.0,0.55],[-2.8,0.5],[-2.6,0.7],[-2.4,0.85],[-2.2,0.5],[-2.0,0.6],[-1.8,0.75],[-1.6,0.55],[-1.4,0.7],[-1.2,0.9],[-1.0,0.55],[-0.8,0.8],[-0.6,0.5],[-0.4,0.45],[-0.2,0.2],[-0.05,0.05],[0,0],[4.3,0],[4.6,0.05],[4.9,0.15],[5.1,0.3],[5.3,0.25],[5.5,0.2],[5.8,0.35],[6,0.3]];

// LaTiO3
var laTiO3Labels = ["S", "X", "Γ", "T", "R"];
var laTiO3K = [0, .179, .433, .745, 1];
var laTiO3Grid = [0, .09, .179, .30, .433, .55, .655, .745, .87, 1];
var laTiO3GW = [
  [1.8, 1.75, 1.6, 1.3, 0.65, 0.9, 1.4, 1.4, 1.4, 1.4],
  [1.55, 1.5, 1.4, 1.0, 0.4, 0.7, 1.35, 1.45, 1.45, 1.45],
  [1.4, 1.45, 1.5, 1.5, 1.5, 1.5, 1.45, 1.8, 1.8, 1.8],
  [1.7, 1.6, 1.2, 0.85, 0.6, 0.75, 1.5, 1.7, 1.75, 1.8],
  [-0.1, -0.12, -0.2, -0.35, -0.62, -0.4, -0.15, -0.05, -0.05, -0.05],
  [-0.1, -0.1, -0.15, -0.3, -0.55, -0.35, -0.1, -0.05, -0.03, -0.03]
];
var laTiO3DFT = [
  [1.8, 1.75, 1.7, 1.7, 1.75, 1.75, 1.8, 1.8, 1.75, 1.75],
  [1.7, 1.68, 1.65, 1.65, 1.68, 1.7, 1.7, 1.72, 1.7, 1.7],
  [1.6, 1.6, 1.55, 1.6, 1.6, 1.6, 1.6, 1.65, 1.6, 1.65],
  [1.4, 1.38, 1.35, 1.4, 1.42, 1.4, 1.38, 1.4, 1.4, 1.4],
  [1.2, 1.2, 1.15, 1.2, 1.25, 1.2, 1.15, 1.2, 1.2, 1.2],
  [1.0, 0.95, 0.85, 0.6, 0.3, 0.5, 0.8, 0.9, 0.95, 1.0],
  [0.9, 0.85, 0.75, 0.5, 0.25, 0.45, 0.75, 0.85, 0.75, 0.65],
  [1.3, 1.25, 1.0, 0.7, 0.45, 0.6, 0.95, 1.15, 1.1, 1.0],
  [-0.15, -0.2, -0.3, -0.45, -0.7, -0.5, -0.2, -0.1, -0.1, -0.1],
  [-3.95, -3.9, -3.85, -3.7, -3.6, -3.7, -3.85, -3.9, -3.9, -3.9]
];
var laTiO3Dots = [
  [.179, [5.8, 5.6, 5.4, 5.2, 5.0, 4.8, 4.6, 4.4, 4.2, 4.0, 2.75, 2.6, 1.45, 1.3, 1.1, -0.2]],
  [.264, [6.0, 5.7, 5.5, 5.3, 5.1, 4.9, 4.7, 4.5, 4.3, 4.0, 3.75, 2.45, 2.3, 1.5, -0.35]],
  [.352, [6.0, 5.8, 5.5, 5.3, 5.0, 4.8, 4.6, 4.4, 4.2, 4.0, 3.7, 3.4, 2.4, 2.2, 1.5, 0.83, -0.45]],
  [.433, [5.5, 5.3, 5.1, 4.9, 4.7, 4.5, 4.3, 4.1, 3.9, 3.7, 3.4, 3.2, 2.4, 2.1, 1.5, 0.65, 0.38, -0.6]],
  [.61, [6.0, 5.8, 5.6, 5.4, 5.2, 5.0, 4.8, 4.6, 4.4, 4.2, 4.0, 3.8, 3.5, 3.2, 2.9, 2.2, 1.45, 1.3, -0.35]],
  [.67, [6.0, 5.7, 5.5, 5.3, 5.1, 4.9, 4.7, 4.5, 4.3, 4.1, 3.9, 3.6, 3.3, 2.95, 2.4, 2.1, 1.8, 1.6, 1.4, -0.15]]
];
var laTiO3TM = [[-4,0],[-0.7,0],[-0.6,0.05],[-0.4,0.1],[-0.2,0.15],[-0.05,0.37],[0,0],[0.3,0],[0.5,0.05],[0.8,0.1],[1.0,0.05],[1.2,0.15],[1.4,0.25],[1.55,0.2],[1.7,0.35],[1.8,0.2],[1.95,0.1],[2.2,0.1],[2.4,0.15],[2.6,0.12],[2.8,0.08],[3.0,0.1],[3.3,0.15],[3.6,0.25],[3.8,0.35],[4.0,0.45],[4.2,0.55],[4.35,0.73],[4.5,0.45],[4.7,0.35],[4.9,0.4],[5.1,0.3],[5.3,0.25],[5.5,0.15],[5.7,0.1],[5.9,0.15],[6,0.1]];
var laTiO3O = [[-4,0],[-0.6,0],[-0.3,0.03],[-0.1,0.08],[0,0],[0.5,0],[1.0,0.02],[1.5,0.05],[2,0.03],[3,0.04],[3.5,0.08],[4.0,0.15],[4.3,0.2],[4.6,0.15],[5,0.1],[5.5,0.05],[5.9,0.1],[6,0.08]];

// LaVO3
var laVO3Labels = ["Z", "Γ", "Y", "S", "X", "U", "R"];
var laVO3K = [0, .188, .33, .53, .667, .857, 1];
var laVO3Grid = [0, .094, .188, .26, .33, .43, .53, .6, .667, .76, .857, .93, 1];
var laVO3GW = [
  [4.9, 4.85, 4.8, 4.75, 4.8, 4.8, 4.85, 4.75, 4.6, 4.8, 5.1, 5.0, 5.0],
  [4.6, 4.5, 4.4, 4.3, 4.3, 4.4, 4.5, 4.6, 4.7, 4.2, 3.6, 4.3, 4.8],
  [4.0, 3.9, 3.8, 3.7, 3.5, 3.7, 4.0, 4.3, 4.5, 4.5, 4.5, 4.6, 4.8],
  [3.0, 2.95, 2.9, 2.8, 2.8, 2.9, 3.0, 2.8, 2.55, 2.8, 3.0, 2.9, 2.9],
  [2.6, 2.6, 2.6, 2.55, 2.5, 2.55, 2.6, 2.5, 2.45, 2.6, 2.7, 2.6, 2.6],
  [1.6, 1.65, 1.7, 1.6, 1.45, 1.5, 1.6, 1.65, 1.7, 1.5, 1.3, 1.25, 1.2],
  [1.5, 1.45, 1.4, 1.35, 1.25, 1.3, 1.35, 1.45, 1.5, 1.35, 1.25, 1.2, 1.15],
  [1.3, 1.25, 1.2, 1.15, 1.1, 1.15, 1.2, 1.25, 1.3, 1.2, 1.1, 1.05, 1.0],
  [-0.1, -0.15, -0.2, -0.15, -0.1, -0.1, -0.05, -0.05, -0.05, -0.05, -0.05, -0.05, -0.05],
  [-0.25, -0.3, -0.35, -0.3, -0.25, -0.2, -0.15, -0.1, -0.1, -0.15, -0.2, -0.1, -0.05],
  [-0.4, -0.5, -0.65, -0.5, -0.4, -0.35, -0.3, -0.35, -0.45, -0.3, -0.2, -0.15, -0.15],
  [-0.5, -0.55, -0.7, -0.6, -0.55, -0.5, -0.5, -0.45, -0.4, -0.45, -0.5, -0.4, -0.3],
  [-3.5, -3.45, -3.4, -3.45, -3.5, -3.55, -3.6, -3.55, -3.5, -3.5, -3.55, -3.5, -3.5],
  [-3.7, -3.6, -3.5, -3.6, -3.7, -3.75, -3.8, -3.7, -3.65, -3.7, -3.75, -3.7, -3.7],
  [-3.85, -3.8, -3.75, -3.8, -3.85, -3.9, -3.95, -3.9, -3.85, -3.9, -3.9, -3.85, -3.9]
];
var laVO3DFT = [
  [2.2, 2.15, 2.1, 2.15, 2.2, 2.2, 2.15, 2.1, 2.05, 2.1, 2.15, 2.2, 2.2],
  [2.1, 2.1, 2.1, 2.08, 2.05, 2.1, 2.1, 2.05, 2.0, 2.05, 2.1, 2.1, 2.1],
  [2.0, 2.05, 2.1, 2.0, 1.95, 2.0, 2.05, 2.0, 1.9, 2.0, 2.05, 2.0, 2.0],
  [1.92, 1.97, 2.0, 1.95, 1.9, 1.92, 1.97, 1.92, 1.85, 1.95, 1.97, 1.92, 1.92],
  [1.85, 1.9, 1.95, 1.9, 1.85, 1.85, 1.9, 1.85, 1.8, 1.9, 1.9, 1.85, 1.85],
  [1.15, 1.1, 1.05, 1.0, 1.0, 1.05, 1.1, 1.15, 1.2, 1.1, 1.0, 0.95, 0.95],
  [0.6, 0.55, 0.5, 0.45, 0.4, 0.45, 0.5, 0.55, 0.6, 0.5, 0.4, 0.2, 0.15],
  [0.5, 0.45, 0.4, 0.4, 0.4, 0.35, 0.3, 0.35, 0.45, 0.35, 0.25, 0.15, 0.1],
  [-0.55, -0.6, -0.75, -0.65, -0.6, -0.55, -0.55, -0.5, -0.5, -0.5, -0.55, -0.5, -0.4],
  [-3.2, -3.1, -2.95, -3.0, -3.1, -3.15, -3.2, -3.2, -3.2, -3.15, -3.2, -3.2, -3.2],
  [-3.3, -3.25, -3.2, -3.25, -3.3, -3.3, -3.35, -3.3, -3.3, -3.3, -3.3, -3.3, -3.3]
];
var laVO3Dots = [
  [.117, [4.65, 4.45, 4.25, 4.05, 3.85, 2.95, 2.7, 2.5, 1.7, 1.45, -0.25, -0.45, -0.65, -3.4, -3.65, -3.9]],
  [.188, [4.65, 4.45, 4.25, 4.05, 3.85, 2.95, 2.75, 2.55, 1.7, 1.45, -0.2, -0.45, -0.7, -3.35, -3.6, -3.85]],
  [.259, [4.65, 4.45, 4.25, 4.05, 3.85, 2.9, 2.7, 1.65, 1.4, -0.25, -0.45, -0.65, -3.4, -3.65, -3.85]],
  [.316, [4.6, 4.4, 4.2, 4.0, 3.5, 2.6, 1.65, 1.35, -0.2, -0.4, -0.6, -3.45, -3.7, -3.9]],
  [.667, [5.9, 5.75, 5.6, 5.45, 5.3, 5.15, 5.0, 4.85, 4.7, 4.55, 4.4, 4.25, 4.1, 2.65, 1.7, -0.05, -0.35, -3.4, -3.6, -3.8, -3.95]]
];
var laVO3TM = [[-4,0],[-3.95,0.05],[-3.5,0.03],[-3.2,0.02],[-0.8,0],[-0.6,0.1],[-0.4,0.2],[-0.25,0.3],[-0.1,0.63],[-0.02,0.2],[0,0],[1.0,0],[1.15,0.15],[1.3,0.3],[1.45,0.4],[1.6,0.2],[1.75,0.05],[2.4,0],[2.55,0.15],[2.7,0.35],[2.85,0.25],[3.0,0.1],[3.3,0.05],[3.6,0.15],[3.8,0.3],[4.0,0.5],[4.15,0.3],[4.3,0.25],[4.5,0.35],[4.7,0.25],[5.0,0.2],[5.3,0.15],[5.6,0.1],[5.8,0.15],[6,0.1]];
var laVO3O = [[-4,0],[-3.95,0.8],[-3.8,0.6],[-3.6,0.4],[-3.4,0.1],[-3.2,0.02],[-0.5,0],[-0.2,0.05],[-0.1,0.1],[0,0],[1.2,0],[1.4,0.08],[1.6,0.03],[2.6,0.05],[3.8,0.1],[4.0,0.15],[4.3,0.12],[4.8,0.15],[5.2,0.1],[5.8,0.12],[6,0.1]];

// LaCrO3
var laCrO3Labels = ["S", "X", "Γ", "T", "R"];
var laCrO3K = [0, .177, .43, .744, 1];
var laCrO3Grid = [0, .09, .177, .30, .43, .53, .64, .744, .87, 1];
var laCrO3GW = [
  [3.8, 3.75, 3.7, 3.6, 3.35, 3.5, 3.7, 3.75, 3.8, 3.8],
  [3.65, 3.6, 3.55, 3.5, 3.4, 3.45, 3.55, 3.6, 3.6, 3.55],
  [3.9, 3.9, 3.85, 3.8, 3.75, 3.8, 3.9, 3.95, 3.95, 3.9],
  [4.0, 4.0, 4.05, 4.1, 4.0, 3.95, 3.9, 3.85, 3.7, 3.6],
  [3.3, 3.35, 3.4, 3.45, 3.5, 3.45, 3.4, 3.35, 3.3, 3.25],
  [-0.1, -0.15, -0.2, -0.1, -0.05, -0.1, -0.2, -0.25, -0.2, -0.15],
  [-0.2, -0.2, -0.25, -0.35, -0.6, -0.45, -0.3, -0.3, -0.25, -0.2],
  [-0.25, -0.3, -0.35, -0.55, -0.8, -0.6, -0.35, -0.35, -0.3, -0.25],
  [-2.9, -2.85, -2.7, -2.6, -2.5, -2.6, -2.8, -2.9, -2.95, -3.0],
  [-3.1, -3.0, -2.9, -2.85, -2.8, -2.9, -3.0, -3.1, -3.1, -3.1],
  [-3.3, -3.2, -3.15, -3.1, -3.05, -3.1, -3.2, -3.3, -3.3, -3.3],
  [-3.5, -3.45, -3.4, -3.35, -3.3, -3.35, -3.45, -3.5, -3.5, -3.5],
  [-3.7, -3.65, -3.6, -3.6, -3.55, -3.6, -3.65, -3.7, -3.7, -3.7],
  [-3.85, -3.8, -3.8, -3.75, -3.8, -3.85, -3.85, -3.9, -3.85, -3.85]
];
var laCrO3DFT = [
  [3.0, 3.0, 2.95, 2.9, 2.85, 2.9, 2.95, 3.0, 3.0, 3.0],
  [2.9, 2.9, 2.85, 2.82, 2.78, 2.82, 2.88, 2.9, 2.88, 2.88],
  [2.8, 2.8, 2.75, 2.75, 2.7, 2.75, 2.8, 2.8, 2.75, 2.75],
  [2.7, 2.7, 2.68, 2.65, 2.6, 2.65, 2.7, 2.7, 2.68, 2.68],
  [2.6, 2.6, 2.6, 2.55, 2.5, 2.55, 2.6, 2.6, 2.6, 2.6],
  [2.52, 2.52, 2.5, 2.48, 2.45, 2.48, 2.52, 2.52, 2.52, 2.52],
  [2.45, 2.45, 2.4, 2.4, 2.4, 2.4, 2.45, 2.45, 2.45, 2.45],
  [4.6, 4.5, 4.4, 4.5, 4.7, 4.6, 4.5, 4.4, 4.5, 4.6],
  [2.2, 2.1, 2.0, 1.8, 1.6, 1.8, 2.0, 2.1, 2.2, 2.2],
  [1.9, 1.85, 1.8, 1.6, 1.2, 1.5, 1.85, 1.9, 1.9, 1.9],
  [1.6, 1.6, 1.5, 1.4, 1.0, 1.3, 1.6, 1.7, 1.6, 1.6],
  [1.3, 1.3, 1.35, 1.4, 1.5, 1.45, 1.35, 1.3, 1.3, 1.3],
  [-2.1, -2.0, -1.9, -1.8, -1.75, -1.85, -2.0, -2.1, -2.1, -2.15],
  [-2.3, -2.25, -2.2, -2.15, -2.1, -2.2, -2.25, -2.3, -2.3, -2.3]
];
var laCrO3Dots = [
  [.254, [4.0, 3.8, 3.6, 3.45, -0.25, -0.35, -2.5, -2.7, -2.9, -3.1, -3.3, -3.5, -3.7]],
  [.34, [4.7, 4.0, 3.8, 3.6, 3.45, 3.3, -0.1, -0.3, -2.55, -2.75, -2.95, -3.15, -3.35, -3.55, -3.75]],
  [.43, [4.7, 4.0, 3.8, 3.6, 3.4, 3.2, -0.05, -0.2, -0.3, -0.75, -2.45, -2.65, -2.85, -3.05, -3.25, -3.45, -3.65, -3.85]],
  [.604, [5.8, 5.6, 5.45, 3.9, 3.7, 3.55, 3.4, -0.15, -0.3, -2.7, -2.9, -3.1, -3.3, -3.5, -3.7]],
  [.66, [6.0, 3.9, 3.7, -0.2, -2.75, -2.95, -3.15, -3.35, -3.55]]
];
var laCrO3TM = [[-4,0],[-0.6,0],[-0.45,0.1],[-0.3,0.3],[-0.2,0.76],[-0.1,0.25],[0,0],[3.0,0],[3.1,0.1],[3.25,0.2],[3.4,0.3],[3.55,0.25],[3.7,0.4],[3.85,0.55],[3.95,1.0],[4.05,0.3],[4.2,0.15],[4.5,0.05],[4.8,0.03],[6,0.02]];
var laCrO3O = [[-4,0],[-3.9,0.45],[-3.7,0.6],[-3.5,0.7],[-3.3,0.55],[-3.1,0.75],[-2.9,0.6],[-2.75,0.35],[-2.6,0.1],[-2.4,0],[-0.4,0],[-0.2,0.1],[0,0],[3.1,0],[3.4,0.1],[3.7,0.15],[3.9,0.2],[4.2,0.05],[5.0,0.05],[6,0.05]];

// LaMnO3
var laMnO3Labels = ["S", "X", "Γ", "T", "R"];
var laMnO3K = [0, .18, .437, .746, 1];
var laMnO3Grid = [0, .09, .18, .3, .437, .55, .65, .746, .87, 1];
var laMnO3GW = [
  [1.9, 1.6, 1.3, 1.0, 0.88, 1.0, 1.3, 1.5, 1.5, 1.5],
  [1.85, 1.75, 1.55, 1.3, 1.05, 1.25, 1.5, 1.9, 2.1, 2.3],
  [2.2, 2.15, 1.9, 1.75, 1.55, 1.6, 1.5, 2.0, 2.3, 2.2],
  [2.2, 2.2, 2.0, 1.95, 2.0, 1.95, 1.85, 2.4, 2.3, 2.4],
  [2.3, 2.3, 2.25, 2.25, 2.25, 2.3, 2.1, 2.6, 2.5, 2.6],
  [2.3, 2.35, 2.45, 2.5, 2.7, 2.65, 2.4, 2.2, 2.5, 2.7],
  [3.6, 3.8, 4.1, 4.1, 3.9, 3.6, 3.3, 3.6, 4.0, 4.2],
  [4.1, 4.1, 4.1, 4.1, 4.0, 3.9, 3.5, 3.0, 3.6, 4.0],
  [-0.25, -0.25, -0.25, -0.35, -0.45, -0.35, -0.25, -0.25, -0.55, -0.85],
  [-0.25, -0.4, -0.55, -1.1, -1.35, -1.05, -0.4, -0.3, -0.6, -0.9],
  [-1.95, -1.95, -1.95, -1.9, -1.9, -1.95, -1.95, -1.95, -2.0, -2.0],
  [-2.1, -2.1, -2.05, -2.0, -2.1, -2.1, -2.05, -2.1, -2.15, -2.2],
  [-2.25, -2.2, -2.3, -2.25, -2.3, -2.35, -2.3, -2.3, -2.3, -2.35],
  [-2.5, -2.45, -2.5, -2.6, -2.55, -2.6, -2.5, -2.45, -2.5, -2.55],
  [-2.75, -2.8, -2.8, -2.8, -2.8, -2.85, -2.75, -2.8, -2.8, -2.85],
  [-2.95, -2.95, -3.0, -2.95, -3.0, -2.95, -2.95, -3.0, -2.95, -3.0],
  [-2.0, -2.3, -2.6, -2.4, -2.2, -2.5, -2.8, -2.6, -2.3, -2.1]
];
var laMnO3DFT = [
  [2.7, 2.7, 2.65, 2.6, 2.6, 2.65, 2.7, 2.7, 2.65, 2.6],
  [2.62, 2.62, 2.58, 2.53, 2.52, 2.58, 2.62, 2.62, 2.58, 2.55],
  [2.55, 2.55, 2.5, 2.45, 2.45, 2.5, 2.55, 2.55, 2.5, 2.5],
  [2.47, 2.47, 2.42, 2.38, 2.38, 2.42, 2.47, 2.47, 2.42, 2.42],
  [2.4, 2.4, 2.35, 2.3, 2.3, 2.35, 2.4, 2.4, 2.35, 2.35],
  [2.32, 2.32, 2.28, 2.25, 2.25, 2.28, 2.32, 2.32, 2.28, 2.28],
  [2.25, 2.25, 2.2, 2.2, 2.2, 2.2, 2.25, 2.25, 2.2, 2.2],
  [1.15, 1.1, 1.0, 0.7, 0.4, 0.6, 0.9, 1.0, 1.1, 1.2],
  [0.8, 0.6, 0.4, 0.35, 0.5, 0.65, 0.8, 0.85, 0.9, 1.0],
  [1.2, 1.2, 1.2, 1.25, 1.3, 1.3, 1.25, 1.2, 1.2, 1.2],
  [1.0, 0.95, 0.9, 0.85, 0.8, 0.85, 0.95, 1.0, 1.0, 1.0],
  [-1.7, -1.7, -1.7, -1.65, -1.7, -1.7, -1.7, -1.7, -1.7, -1.7],
  [-1.8, -1.8, -1.75, -1.75, -1.8, -1.8, -1.8, -1.8, -1.8, -1.8],
  [-0.3, -0.3, -0.3, -0.4, -0.5, -0.4, -0.3, -0.3, -0.5, -0.75]
];
var laMnO3Dots = [
  [.25, [2.45, 2.3, 2.2, 2.0, 1.55, 1.15, -0.25, -0.55, -1.95, -2.1, -2.3, -2.5, -2.8, -3.0]],
  [.355, [2.45, 2.0, 1.7, 0.95, -0.38, -1.1, -1.9, -2.0, -2.3, -2.6, -2.8, -3.0]],
  [.437, [2.7, 2.4, 2.0, 1.65, 1.5, 0.88, -0.45, -1.35, -1.9, -2.1, -2.25, -2.55, -2.8, -3.0]],
  [.57, [2.65, 2.3, 2.0, 1.9, 1.6, 1.3, -0.35, -1.05, -1.95, -2.1, -2.35, -2.6, -2.9]],
  [.67, [3.9, 3.6, 3.35, 3.0, 2.6, 2.4, 2.0, 1.6, 1.5, 1.2, -0.25, -0.35, -1.95, -2.1]]
];
var laMnO3TM = [[-3,0],[-2.95,0.1],[-2.8,0.05],[-2.6,0.15],[-2.4,0.1],[-2.25,0.25],[-2.1,0.45],[-2.0,0.3],[-1.9,0.35],[-1.8,0.05],[-1.7,0],[-1.0,0],[-0.95,0.3],[-0.9,0.05],[-0.5,0.02],[0,0],[1.4,0],[1.6,0.35],[1.7,0.2],[1.85,0.4],[1.95,0.25],[2.1,0.45],[2.2,0.8],[2.3,0.4],[2.45,0.3],[2.55,0.5],[2.7,0.15],[2.9,0.1],[3.2,0.05],[3.6,0.08],[4,0.05]];
var laMnO3O = [[-3,0],[-2.9,0.3],[-2.8,0.15],[-2.6,0.1],[-2.3,0.2],[-2.1,0.25],[-1.9,0.3],[-1.8,0.05],[-1.5,0],[-0.9,0.05],[-0.5,0.05],[-0.2,0.03],[0,0],[1.5,0],[1.8,0.1],[2.1,0.2],[2.3,0.15],[2.5,0.15],[2.8,0.1],[3.0,0.05],[3.5,0.08],[4,0.05]];

// LaFeO3
var laFeO3Labels = ["S", "X", "Γ", "T", "R"];
var laFeO3K = [0, .179, .433, .745, 1];
var laFeO3Grid = [0, .09, .179, .3, .433, .55, .65, .745, .87, 1];
var laFeO3GW = [
  [1.8, 1.8, 1.75, 1.75, 1.75, 1.75, 1.8, 1.8, 1.8, 1.85],
  [1.9, 1.9, 1.85, 1.85, 1.85, 1.85, 1.85, 1.9, 1.9, 1.9],
  [1.95, 1.95, 1.95, 2.0, 2.05, 2.0, 1.95, 1.95, 1.95, 2.0],
  [2.0, 2.0, 2.0, 1.95, 1.95, 1.9, 1.85, 1.85, 1.9, 1.95],
  [4.2, 4.1, 4.0, 3.9, 3.75, 3.6, 3.55, 3.5, 3.6, 3.7],
  [4.1, 4.05, 4.0, 3.95, 3.9, 3.8, 3.7, 3.6, 3.8, 3.9],
  [-0.05, -0.15, -0.3, -0.6, -0.9, -0.6, -0.35, -0.2, -0.3, -0.55],
  [-0.1, -0.3, -0.6, -0.85, -1.0, -0.75, -0.5, -0.3, -0.4, -0.6],
  [-0.2, -0.45, -0.75, -0.95, -1.1, -0.85, -0.75, -0.45, -0.5, -0.65],
  [-2.0, -2.0, -2.05, -2.0, -2.0, -2.05, -2.05, -2.0, -2.0, -2.0],
  [-2.15, -2.2, -2.15, -2.2, -2.2, -2.2, -2.15, -2.2, -2.25, -2.2],
  [-2.35, -2.3, -2.35, -2.4, -2.4, -2.35, -2.35, -2.4, -2.35, -2.4],
  [-2.5, -2.55, -2.5, -2.55, -2.6, -2.55, -2.5, -2.55, -2.6, -2.55],
  [-2.7, -2.7, -2.75, -2.7, -2.8, -2.7, -2.75, -2.7, -2.7, -2.75],
  [-2.9, -2.85, -2.9, -2.9, -2.95, -2.9, -2.85, -2.9, -2.9, -2.95],
  [-2.3, -2.6, -2.9, -2.6, -2.2, -2.5, -2.8, -2.5, -2.2, -2.4]
];
var laFeO3DFT = [
  [2.5, 2.45, 2.5, 2.7, 2.9, 2.7, 2.5, 2.4, 2.35, 2.3],
  [2.3, 2.35, 2.5, 2.7, 2.8, 2.6, 2.4, 2.3, 2.2, 2.1],
  [3.1, 3.15, 3.2, 3.2, 3.25, 3.2, 3.25, 3.3, 3.3, 3.3],
  [3.2, 3.22, 3.27, 3.3, 3.32, 3.3, 3.32, 3.35, 3.33, 3.32],
  [3.3, 3.3, 3.35, 3.4, 3.4, 3.4, 3.4, 3.4, 3.35, 3.35],
  [0.8, 0.75, 0.75, 0.8, 0.85, 0.8, 0.75, 0.7, 0.75, 0.8],
  [0.7, 0.7, 0.65, 0.7, 0.75, 0.7, 0.7, 0.65, 0.7, 0.65],
  [0.6, 0.6, 0.6, 0.65, 0.7, 0.65, 0.6, 0.6, 0.6, 0.6],
  [-1.7, -1.7, -1.65, -1.6, -1.55, -1.6, -1.65, -1.7, -1.7, -1.7],
  [-1.85, -1.8, -1.8, -1.75, -1.75, -1.8, -1.8, -1.85, -1.85, -1.85],
  [-0.1, -0.25, -0.45, -0.7, -0.8, -0.6, -0.4, -0.25, -0.3, -0.5]
];
var laFeO3Dots = [
  [.255, [1.95, 1.85, 1.75, -0.23, -0.74, -2.05, -2.2, -2.4, -2.6, -2.8]],
  [.352, [2.0, 1.9, 1.8, -0.65, -0.8, -2.05, -2.25, -2.45, -2.65, -2.9]],
  [.433, [2.05, 1.95, 1.85, 1.75, -0.9, -1.0, -1.1, -2.0, -2.2, -2.4, -2.6, -2.85, -2.95]],
  [.6, [3.7, 3.45, 1.9, 1.8, -0.5, -0.8, -2.1, -2.3, -2.5, -2.7, -2.9]],
  [.67, [3.7, 1.85, -0.35, -2.1, -2.3, -2.5, -2.7, -2.9]]
];
var laFeO3TM = [[-3,0],[-2.9,0.1],[-2.7,0.05],[-2.5,0.08],[-2.3,0.1],[-2.1,0.15],[-1.95,0.1],[-1.9,0],[-1.0,0],[-0.8,0.05],[-0.6,0.35],[-0.5,0.45],[-0.4,0.2],[-0.3,0.35],[-0.15,0.2],[-0.05,0.05],[0,0],[1.8,0],[1.9,0.2],[1.97,1.0],[2.05,0.6],[2.15,0.3],[2.25,0.05],[2.4,0],[3.4,0],[3.5,0.2],[3.6,0.55],[3.7,0.3],[3.8,0.15],[4,0.1]];
var laFeO3O = [[-3,0],[-2.9,0.3],[-2.75,0.5],[-2.6,0.75],[-2.45,0.45],[-2.3,0.6],[-2.15,0.5],[-2.0,0.55],[-1.95,0.2],[-1.9,0],[-0.8,0],[-0.6,0.15],[-0.45,0.25],[-0.3,0.4],[-0.15,0.2],[0,0],[1.9,0],[2.0,0.25],[2.1,0.1],[2.3,0],[3.5,0],[3.6,0.15],[3.7,0.05],[4,0.03]];

// panel grid (pixel frames) and energy windows per row
var colFrames = [[53, 162, 216], [228, 338, 392], [403, 520, 570], [582, 699, 742]];
var rowFrames = [[4, 223], [267, 486], [530, 750], [794, 1013]];
var rowEnergy = [[-6, 11], [-3, 3], [-4, 6], [-3, 4]];
var rowLabelTicks = [[-6, -4, -2, 0, 2, 4, 6, 8, 10], [-3, -2, -1, 0, 1, 2, 3], [-4, -2, 0, 2, 4, 6], [-3, -2, -1, 0, 1, 2, 3, 4]];
var rowMinorTicks = [[], [-2.5, -1.5, -0.5, 0.5, 1.5, 2.5], [-3, -1, 1, 3, 5], []];

var panels = [
  { name: [["SrTiO", 0], ["3", 1]], row: 0, col: 0, labels: srTiO3Labels, k: srTiO3K, grid: srTiO3Grid, gw: srTiO3GW, dft: srTiO3DFT, dots: srTiO3Dots, tm: srTiO3TM, o: srTiO3O },
  { name: [["SrZrO", 0], ["3", 1]], row: 0, col: 1, labels: srZrO3Labels, k: srZrO3K, grid: srZrO3Grid, gw: srZrO3GW, dft: srZrO3DFT, dots: srZrO3Dots, tm: srZrO3TM, o: srZrO3O },
  { name: [["SrHfO", 0], ["3", 1]], row: 0, col: 2, labels: srHfO3Labels, k: srHfO3K, grid: srHfO3Grid, gw: srHfO3GW, dft: srHfO3DFT, dots: srHfO3Dots, tm: srHfO3TM, o: srHfO3O },
  { name: [["KTaO", 0], ["3", 1]], row: 0, col: 3, labels: kTaO3Labels, k: kTaO3K, grid: kTaO3Grid, gw: kTaO3GW, dft: kTaO3DFT, dots: kTaO3Dots, tm: kTaO3TM, o: kTaO3O },
  { name: [["SrMnO", 0], ["3", 1]], row: 1, col: 0, labels: srMnO3Labels, k: srMnO3K, grid: srMnO3Grid, gw: srMnO3GW, dft: srMnO3DFT, dots: srMnO3Dots, tm: srMnO3TM, o: srMnO3O },
  { name: [["SrTcO", 0], ["3", 1]], row: 1, col: 1, labels: srTcO3Labels, k: srTcO3K, grid: srTcO3Grid, gw: srTcO3GW, dft: srTcO3DFT, dots: srTcO3Dots, tm: srTcO3TM, o: srTcO3O },
  { name: [["Ca", 0], ["2", 1], ["RuO", 0], ["4", 1]], row: 1, col: 2, labels: ca2RuO4Labels, k: ca2RuO4K, grid: ca2RuO4Grid, gw: ca2RuO4GW, dft: ca2RuO4DFT, dots: ca2RuO4Dots, tm: ca2RuO4TM, o: ca2RuO4O, marks: ca2RuO4Marks },
  { name: [["NaOsO", 0], ["3", 1]], row: 1, col: 3, labels: naOsO3Labels, k: naOsO3K, grid: naOsO3Grid, gw: naOsO3GW, dft: naOsO3DFT, dots: naOsO3Dots, tm: naOsO3TM, o: naOsO3O },
  { name: [["LaScO", 0], ["3", 1]], row: 2, col: 0, labels: laScO3Labels, k: laScO3K, grid: laScO3Grid, gw: laScO3GW, dft: laScO3DFT, dots: laScO3Dots, tm: laScO3TM, o: laScO3O, legend: true },
  { name: [["LaTiO", 0], ["3", 1]], row: 2, col: 1, labels: laTiO3Labels, k: laTiO3K, grid: laTiO3Grid, gw: laTiO3GW, dft: laTiO3DFT, dots: laTiO3Dots, tm: laTiO3TM, o: laTiO3O },
  { name: [["LaVO", 0], ["3", 1]], row: 2, col: 2, labels: laVO3Labels, k: laVO3K, grid: laVO3Grid, gw: laVO3GW, dft: laVO3DFT, dots: laVO3Dots, tm: laVO3TM, o: laVO3O },
  { name: [["LaCrO", 0], ["3", 1]], row: 2, col: 3, labels: laCrO3Labels, k: laCrO3K, grid: laCrO3Grid, gw: laCrO3GW, dft: laCrO3DFT, dots: laCrO3Dots, tm: laCrO3TM, o: laCrO3O },
  { name: [["LaMnO", 0], ["3", 1]], row: 3, col: 0, labels: laMnO3Labels, k: laMnO3K, grid: laMnO3Grid, gw: laMnO3GW, dft: laMnO3DFT, dots: laMnO3Dots, tm: laMnO3TM, o: laMnO3O },
  { name: [["LaFeO", 0], ["3", 1]], row: 3, col: 1, labels: laFeO3Labels, k: laFeO3K, grid: laFeO3Grid, gw: laFeO3GW, dft: laFeO3DFT, dots: laFeO3Dots, tm: laFeO3TM, o: laFeO3O }
];

var SERIF = "'Liberation Serif', 'Times New Roman', serif";
var DOT_FILL = "#2ee0e0", DOS_FILL = "#00ffff", DFT_GREY = "#cfcfcf";

var svg = d3.select("#chart").append("svg")
    .attr("width", 747).attr("height", 1036)
    .attr("viewBox", "0 0 747 1036");

var defs = svg.append("defs");

panels.forEach(function(p, i) {
    var cf = colFrames[p.col], rf = rowFrames[p.row];
    var x = d3.scaleLinear().domain([0, 1]).range([cf[0], cf[1]]);
    var y = d3.scaleLinear().domain(rowEnergy[p.row]).range([rf[1], rf[0]]);
    var xd = d3.scaleLinear().domain([0, 1]).range([cf[1], cf[2]]);

    // clip paths for band panel, dots (a little wider) and DOS panel
    defs.append("clipPath").attr("id", "cb" + i).append("rect")
        .attr("x", cf[0]).attr("y", rf[0]).attr("width", cf[1] - cf[0]).attr("height", rf[1] - rf[0]);
    defs.append("clipPath").attr("id", "cc" + i).append("rect")
        .attr("x", cf[0] - 6).attr("y", rf[0]).attr("width", cf[1] - cf[0] + 12).attr("height", rf[1] - rf[0]);
    defs.append("clipPath").attr("id", "cd" + i).append("rect")
        .attr("x", cf[1]).attr("y", rf[0]).attr("width", cf[2] - cf[1]).attr("height", rf[1] - rf[0]);

    var g = svg.append("g");
    var bands = g.append("g").attr("clip-path", "url(#cb" + i + ")");

    // high-symmetry dotted guides
    bands.selectAll("line.hs").data(p.k.slice(1, -1)).enter().append("line")
        .attr("x1", x).attr("x2", x).attr("y1", rf[0]).attr("y2", rf[1])
        .attr("stroke", "#000").attr("stroke-width", 1).attr("stroke-dasharray", "1,2.6");

    var line = d3.line()
        .x(function(d) { return x(d[0]); })
        .y(function(d) { return y(d[1]); })
        .curve(d3.curveMonotoneX);
    var toPts = function(b) { return b.map(function(e, j) { return [p.grid[j], e]; }); };

    bands.selectAll("path.dft").data(p.dft).enter().append("path")
        .attr("d", function(b) { return line(toPts(b)); })
        .attr("fill", "none").attr("stroke", DFT_GREY).attr("stroke-width", 2.2);
    bands.selectAll("path.gw").data(p.gw).enter().append("path")
        .attr("d", function(b) { return line(toPts(b)); })
        .attr("fill", "none").attr("stroke", "#000").attr("stroke-width", 1.7);

    // DOS: TM filled + outline, O line
    var dos = g.append("g").attr("clip-path", "url(#cd" + i + ")");
    var area = d3.area()
        .y(function(d) { return y(d[0]); })
        .x0(cf[1])
        .x1(function(d) { return xd(d[1]); });
    var dline = d3.line()
        .y(function(d) { return y(d[0]); })
        .x(function(d) { return xd(d[1]); });
    dos.append("path").attr("d", area(p.tm)).attr("fill", DOS_FILL).attr("stroke", "none");
    dos.append("path").attr("d", dline(p.tm)).attr("fill", "none").attr("stroke", "#000").attr("stroke-width", 1);
    dos.append("path").attr("d", dline(p.o)).attr("fill", "none").attr("stroke", "#f00").attr("stroke-width", 1);

    // Fermi level
    g.append("line").attr("x1", cf[0]).attr("x2", cf[2]).attr("y1", y(0)).attr("y2", y(0))
        .attr("stroke", "#000").attr("stroke-width", 1);

    // GW points
    var dotPts = [];
    p.dots.forEach(function(col) { col[1].forEach(function(e) { dotPts.push([col[0], e]); }); });
    g.append("g").attr("clip-path", "url(#cc" + i + ")")
        .selectAll("circle").data(dotPts).enter().append("circle")
        .attr("cx", function(d) { return x(d[0]); })
        .attr("cy", function(d) { return y(d[1]); })
        .attr("r", 3.4)
        .attr("fill", DOT_FILL).attr("stroke", "#000").attr("stroke-width", 0.8);

    // frames
    g.append("rect").attr("x", cf[0]).attr("y", rf[0]).attr("width", cf[1] - cf[0]).attr("height", rf[1] - rf[0])
        .attr("fill", "none").attr("stroke", "#000").attr("stroke-width", 1.3);
    g.append("rect").attr("x", cf[1]).attr("y", rf[0]).attr("width", cf[2] - cf[1]).attr("height", rf[1] - rf[0])
        .attr("fill", "none").attr("stroke", "#000").attr("stroke-width", 1.3);

    // energy ticks (inward on both sides of the band panel)
    var major = rowLabelTicks[p.row], minor = rowMinorTicks[p.row];
    var left = g.append("g").attr("transform", "translate(" + cf[0] + ",0)")
        .call(d3.axisLeft(y).tickValues(major).tickSize(-6).tickPadding(7)
            .tickFormat(p.col === 0 ? d3.format("d") : ""));
    left.select(".domain").remove();
    left.selectAll("text").attr("font-size", 17).style("font-family", SERIF).attr("fill", "#000");
    var leftMinor = g.append("g").attr("transform", "translate(" + cf[0] + ",0)")
        .call(d3.axisLeft(y).tickValues(minor).tickSize(-3).tickFormat(""));
    leftMinor.select(".domain").remove();
    var right = g.append("g").attr("transform", "translate(" + cf[1] + ",0)")
        .call(d3.axisRight(y).tickValues(major).tickSize(-6).tickFormat(""));
    right.select(".domain").remove();
    var rightMinor = g.append("g").attr("transform", "translate(" + cf[1] + ",0)")
        .call(d3.axisRight(y).tickValues(minor).tickSize(-3).tickFormat(""));
    rightMinor.select(".domain").remove();
    g.selectAll(".tick line").attr("stroke", "#000");

    // k-path labels
    var bottom = g.append("g").attr("transform", "translate(0," + rf[1] + ")")
        .call(d3.axisBottom(x).tickValues(p.k).tickSize(0).tickPadding(5)
            .tickFormat(function(d, j) { return p.labels[j]; }));
    bottom.select(".domain").remove();
    bottom.selectAll("text").attr("font-size", 19).style("font-family", SERIF).attr("fill", "#000");

    // material label box
    var lab = g.append("g");
    var box = lab.append("rect").attr("x", cf[0]).attr("y", rf[0])
        .attr("height", 25).attr("fill", "#fff").attr("stroke", "#000").attr("stroke-width", 1.2);
    var t = lab.append("text").attr("x", cf[0] + 7).attr("y", rf[0] + 17)
        .attr("font-size", 15.5).style("font-family", SERIF);
    p.name.forEach(function(part) {
        var ts = t.append("tspan").text(part[0]);
        if (part[1]) ts.attr("font-size", 10.5).attr("dy", 5);
        else if (t.selectAll("tspan").size() > 1) ts.attr("dy", -5);
    });
    box.attr("width", t.node().getComputedTextLength() + 14);

    // band letters in the DOS panel
    if (p.marks) {
        g.selectAll("text.mark").data(p.marks).enter().append("text")
            .attr("x", cf[1] + 25).attr("y", function(d) { return y(d[1]) + 5; })
            .attr("font-size", 15).attr("font-style", "italic").attr("font-weight", "bold")
            .style("font-family", SERIF)
            .text(function(d) { return d[0]; });
    }

    // legend
    if (p.legend) {
        var lg = g.append("g");
        lg.append("rect").attr("x", 103).attr("y", 612).attr("width", cf[2] - 103).attr("height", 34)
            .attr("fill", "#fff").attr("stroke", "#000").attr("stroke-width", 1);
        var items = [["DFT", DFT_GREY, 110, 121, 132, 624], ["GW", "#000", 110, 121, 132, 640],
                     ["TM", "#000", 170, 177, 192, 624], ["O", "#f00", 170, 177, 196, 640]];
        items.forEach(function(it) {
            lg.append("line").attr("x1", it[2]).attr("x2", it[3]).attr("y1", it[5]).attr("y2", it[5])
                .attr("stroke", it[1]).attr("stroke-width", 1.6);
            lg.append("text").attr("x", it[4]).attr("y", it[5] + 4).attr("font-size", 10.5)
                .style("font-family", "'Liberation Sans', Arial, sans-serif").text(it[0]);
        });
    }

    // y-axis title
    if (p.col === 0) {
        svg.append("text")
            .attr("transform", "translate(18," + ((rf[0] + rf[1]) / 2) + ") rotate(-90)")
            .attr("text-anchor", "middle").attr("font-size", 21)
            .style("font-family", SERIF)
            .text("Energy (eV)");
    }
});
</script>
</body>
</html>
